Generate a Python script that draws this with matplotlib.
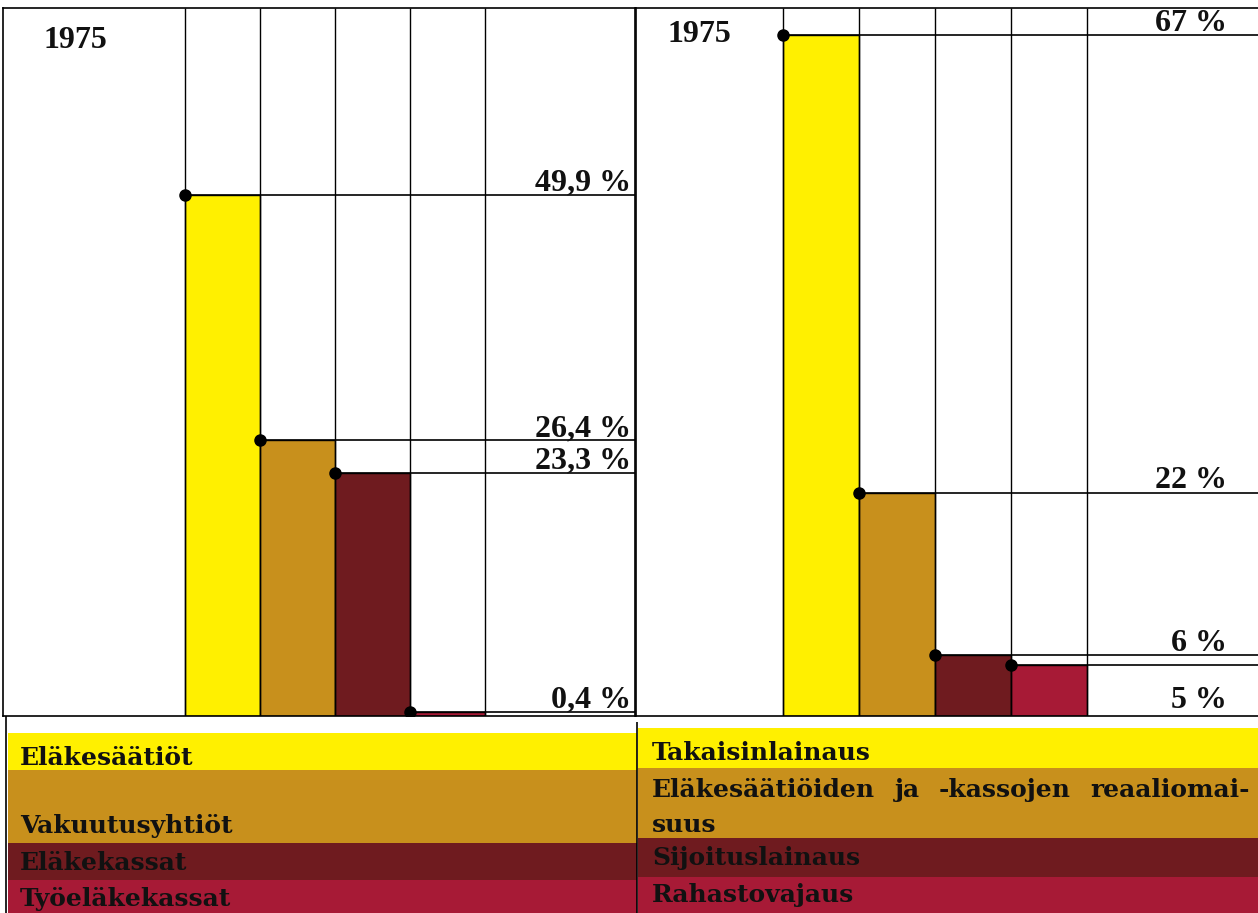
import matplotlib
matplotlib.use("Agg")
import matplotlib.pyplot as plt
from matplotlib.patches import Rectangle

# data
year = "1975"
left_labels = ["Eläkesäätiöt", "Vakuutusyhtiöt", "Eläkekassat", "Työeläkekassat"]
left_values = [49.9, 26.4, 23.3, 0.4]
left_texts = ["49,9 %", "26,4 %", "23,3 %", "0,4 %"]
right_labels = ["Takaisinlainaus", "Eläkesäätiöiden ja -kassojen reaaliomai-\nsuus",
                "Sijoituslainaus", "Rahastovajaus"]
right_values = [67, 22, 6, 5]
right_texts = ["67 %", "22 %", "6 %", "5 %"]

colors = ["#fff000", "#c8901c", "#6f1b1f", "#a71a36"]
NUM_FONT = "Liberation Serif"
LEG_FONT = "DejaVu Serif"
W, H = 1258, 913

fig = plt.figure(figsize=(W / 100, H / 100), dpi=100)
fig.patch.set_facecolor("white")
renderer = fig.canvas.get_renderer()


def px_axes(x0, y0, x1, y1):
    return fig.add_axes([x0 / W, 1 - y1 / H, (x1 - x0) / W, (y1 - y0) / H])


def panel(ax, values, texts, x0, bw, ymax, xmax, lab_x, below):
    ax.set_xlim(0, xmax)
    ax.set_ylim(0, ymax)
    ax.set_xticks([]), ax.set_yticks([])
    for s in ax.spines.values():
        s.set_linewidth(1.2)
    lefts = [x0 + i * bw for i in range(len(values))]
    ax.bar(lefts, values, width=bw, align="edge", color=colors,
           edgecolor="black", linewidth=1.0, zorder=2)
    # vertical grid at bar edges
    ax.vlines(lefts + [lefts[-1] + bw], 0, ymax, color="black", lw=1.0, zorder=3)
    ax.hlines(values, lefts, xmax, color="black", lw=1.2, zorder=3)
    ax.plot(lefts, values, "o", color="black", ms=8, zorder=4)
    for v, t, b in zip(values, texts, below):
        ax.annotate(t, (lab_x, 0 if b else v), xytext=(0, 6 if b else 3),
                    textcoords="offset points", ha="right", va="baseline",
                    fontsize=23, fontweight="bold", family=NUM_FONT, color="#111111")


axL = px_axes(3, 8, 635, 716)
panel(axL, left_values, left_texts, 182, 75, 67.8, 632, 628, [False] * 4)
fig.text(43 / W, 1 - 48 / H, year, fontsize=23, fontweight="bold", family=NUM_FONT,
         va="baseline", color="#111111")

axR = px_axes(636, 8, 1262, 716)
panel(axR, right_values, right_texts, 147, 76, 69.7, 626, 591, [False, False, False, True])
fig.text(668 / W, 1 - 42 / H, year, fontsize=23, fontweight="bold", family=NUM_FONT,
         va="baseline", color="#111111")

# legend bands
axB = px_axes(0, 716, W, H)
axB.set_xlim(0, W)
axB.set_ylim(H, 716)
axB.axis("off")
left_bands = [733, 770, 843, 880, 915]
right_bands = [728, 768, 838, 877, 915]
left_base = [[765], [833], [870], [906]]
right_base = [[760], [797, 832], [865], [902]]
tkw = dict(fontsize=18, fontweight="bold", family=LEG_FONT, va="baseline", color="#111111")


def justified(x0, x1, y, line):
    words = line.split(" ")
    objs = [axB.text(0, y, w, **tkw) for w in words]
    widths = [o.get_window_extent(renderer).width for o in objs]
    gap = (x1 - x0 - sum(widths)) / max(len(words) - 1, 1)
    x = x0
    for o, w in zip(objs, widths):
        o.set_x(x)
        x += w + gap


for i in range(4):
    axB.add_patch(Rectangle((8, left_bands[i]), 629, left_bands[i + 1] - left_bands[i],
                            color=colors[i], lw=0))
    axB.add_patch(Rectangle((638, right_bands[i]), W - 638, right_bands[i + 1] - right_bands[i],
                            color=colors[i], lw=0))
    axB.text(20, left_base[i][0], left_labels[i], **tkw)
    lines = right_labels[i].split("\n")
    for j, (line, yb) in enumerate(zip(lines, right_base[i])):
        if j < len(lines) - 1:
            justified(652, 1250, yb, line)
        else:
            axB.text(652, yb, line, **tkw)
axB.vlines([6], 716, H, color="black", lw=1.2)
axB.vlines([637], 722, H, color="black", lw=1.2)

fig.savefig("out.png", dpi=100, facecolor="white")
